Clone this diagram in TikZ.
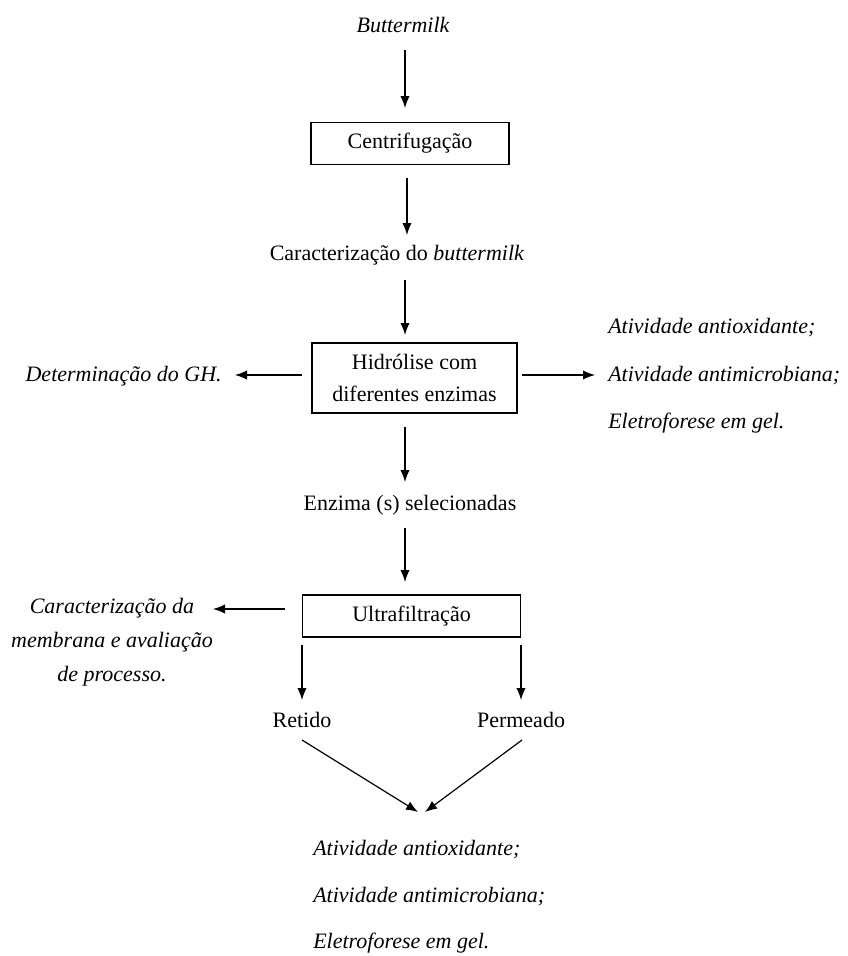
\documentclass[tikz,border=0pt]{standalone}
\usepackage{fontspec}
\setmainfont{Liberation Serif}
\usetikzlibrary{arrows.meta}
\begin{document}
\begin{tikzpicture}[x=0.75pt,y=-0.75pt,
  every node/.style={font=\fontsize{16.5}{19}\selectfont, inner sep=0pt},
  boxnode/.style={draw, line width=0.9pt, minimum height=31.5pt},
  itl/.style={font=\fontsize{16.5}{19}\selectfont\itshape},
  arr/.style={line width=0.9pt, -{Latex[length=9pt,width=7pt]}}]
\useasboundingbox (0,0) rectangle (847,956);
\node (butter) at (403,25) [itl] {Buttermilk};
\node[boxnode, minimum width=148.5pt] (centri) at (410,143.5) {Centrifuga\c{c}\~ao};
\node (carac) at (397,255) {Caracteriza\c{c}\~ao do \textit{buttermilk}};
\node[boxnode, minimum width=153.75pt, minimum height=52.5pt, align=center, font=\fontsize{16.5}{24.5}\selectfont] (hidro) at (414.5,378) {Hidr\'olise com\\diferentes enzimas};
\node[itl, anchor=east] (gh) at (222,376) {Determina\c{c}\~ao do GH.};
\node[itl, anchor=west] (r1) at (608,328) {Atividade antioxidante;};
\node[itl, anchor=west] (r2) at (608,376) {Atividade antimicrobiana;};
\node[itl, anchor=west] (r3) at (608,423) {Eletroforese em gel.};
\node (enz) at (410,505) {Enzima (s) selecionadas};
\node[boxnode, minimum width=164pt] (ultra) at (411.5,616) {Ultrafiltra\c{c}\~ao};
\node[itl, align=center, font=\fontsize{16.5}{25.5}\selectfont\itshape] (memb) at (112,642) {Caracteriza\c{c}\~ao da\\membrana e avalia\c{c}\~ao\\de processo.};
\node (ret) at (302,720) {Retido};
\node (perm) at (521,720) {Permeado};
\node[itl, anchor=west] (b1) at (313,850) {Atividade antioxidante;};
\node[itl, anchor=west] (b2) at (313,897) {Atividade antimicrobiana;};
\node[itl, anchor=west] (b3) at (313,943) {Eletroforese em gel.};
\coordinate (memba) at (213,609);
\draw[arr] (405,50) -- (405,108);
\draw[arr] (407,178) -- (407,235);
\draw[arr] (405,280) -- (405,335);
\draw[arr] (302,375) -- (235,375);
\draw[arr] (522,375) -- (595,375);
\draw[arr] (405,427) -- (405,482);
\draw[arr] (405,528) -- (405,582);
\draw[arr] (285,609) -- (memba);
\draw[arr] (302,645) -- (302,700);
\draw[arr] (521,645) -- (521,700);
\draw[arr] (302,740) -- (418,812);
\draw[arr] (522,740) -- (425,812);
\end{tikzpicture}
\end{document}
